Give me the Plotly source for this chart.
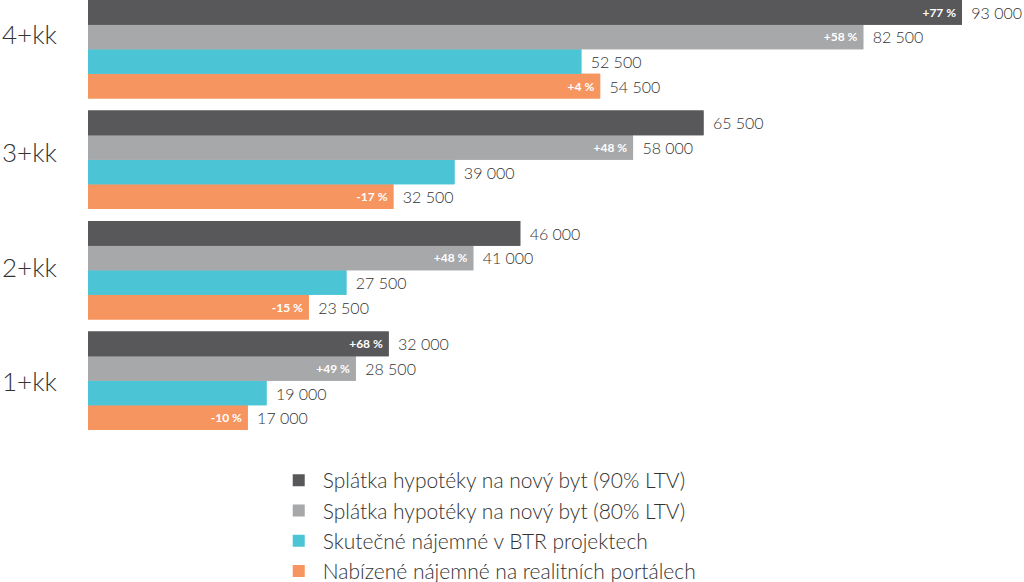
import plotly.graph_objects as go

categories = ["1+kk", "2+kk", "3+kk", "4+kk"]
series_names = [
    "Splátka hypotéky na nový byt (90% LTV)",
    "Splátka hypotéky na nový byt (80% LTV)",
    "Skutečné nájemné v BTR projektech",
    "Nabízené nájemné na realitních portálech",
]
mortgage_90 = [32000, 46000, 65500, 93000]
mortgage_80 = [28500, 41000, 58000, 82500]
btr_rent = [19000, 27500, 39000, 52500]
portal_rent = [17000, 23500, 32500, 54500]

pct_90 = ["+68 %", "", "", "+77 %"]
pct_80 = ["+49 %", "+48 %", "+48 %", "+58 %"]
pct_btr = ["", "", "", ""]
pct_portal = ["-10 %", "-15 %", "-17 %", "+4 %"]

colors = ["#58585a", "#a7a8aa", "#4bc4d5", "#f79560"]

# small vertical nudges of the category labels (style only)
label_shift = [0, 3, 8, 15]

FONT = "Lato"

def fmt(v):
    return "\u00a0\u2009" + f"{v:,}".replace(",", " ")

def fmt_pct(p):
    return p + "\u00a0" if p else ""

series = [
    (series_names[0], mortgage_90, pct_90, colors[0]),
    (series_names[1], mortgage_80, pct_80, colors[1]),
    (series_names[2], btr_rent, pct_btr, colors[2]),
    (series_names[3], portal_rent, pct_portal, colors[3]),
]

fig = go.Figure()
# add in reverse so the first series is at the top of each group
for i, (name, vals, pcts, col) in reversed(list(enumerate(series))):
    fig.add_trace(go.Bar(
        y=categories, x=vals, orientation="h", name=name,
        marker=dict(color=col, line=dict(width=0)),
        offsetgroup=str(i),
        text=[fmt(v) for v in vals], textposition="outside",
        textfont=dict(family=FONT, size=16, color="#333333", weight=300),
        constraintext="none", cliponaxis=False,
        hoverinfo="skip",
    ))
    fig.add_trace(go.Bar(
        y=categories, x=vals, orientation="h", name=name,
        marker=dict(color=col, line=dict(width=0)),
        offsetgroup=str(i), showlegend=False,
        text=[fmt_pct(p) for p in pcts], textposition="inside",
        insidetextanchor="end",
        textfont=dict(family=FONT, size=12, color="white", weight=700),
        constraintext="none", cliponaxis=False,
        hoverinfo="skip",
    ))

for cat, sh in zip(categories, label_shift):
    fig.add_annotation(
        x=0, xref="paper", xanchor="left", xshift=-88,
        y=cat, yref="y", yanchor="middle", yshift=sh,
        text=cat, showarrow=False,
        font=dict(family=FONT, size=26, color="#333333", weight=300),
    )

fig.update_layout(
    width=1024, height=582,
    margin=dict(l=88, r=0, t=0, b=146, autoexpand=False),
    paper_bgcolor="white", plot_bgcolor="white",
    barmode="group", bargap=0.11, bargroupgap=0,
    font=dict(family=FONT, color="#333333"),
    showlegend=True,
    legend=dict(
        orientation="v", traceorder="reversed",
        x=0.1995, xanchor="left", y=-0.055, yanchor="top",
        font=dict(family=FONT, size=21, color="#333333", weight=300),
        tracegroupgap=0, itemwidth=38,
    ),
    xaxis=dict(range=[0, 99600], visible=False, fixedrange=True, automargin=False),
    yaxis=dict(
        categoryorder="array", categoryarray=categories,
        range=[-0.5, 3.4457], automargin=False, fixedrange=True,
        showgrid=False, zeroline=False, showline=False, ticks="",
        showticklabels=False,
    ),
)

fig.write_html("out.html", config={"displayModeBar": False},
               post_script="document.body.style.margin='0';")
